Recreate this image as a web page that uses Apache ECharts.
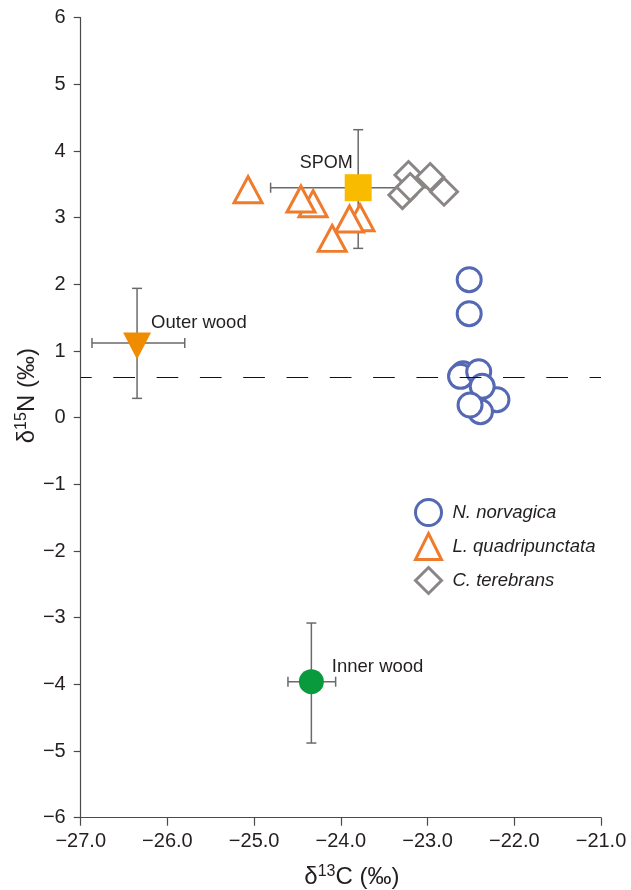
<!DOCTYPE html>
<html>
<head>
<meta charset="utf-8">
<script src="https://cdn.jsdelivr.net/npm/echarts@6/dist/echarts.min.js"></script>
<style>
html,body{margin:0;padding:0;background:#fff;}
#chart{width:631px;height:890px;}
</style>
</head>
<body>
<div id="chart"></div>
<script>
// ---- data (δ13C, δ15N) ----
const nNorvagica = [[-22.52,2.07],[-22.52,1.56],[-22.59,0.66],[-22.62,0.62],[-22.41,0.69],[-22.20,0.27],[-22.39,0.09],[-22.37,0.47],[-22.51,0.19]];
const lQuadripunctata = [[-25.07,3.42],[-24.32,3.21],[-24.46,3.28],[-23.78,3.00],[-23.90,2.98],[-24.10,2.69]];
const cTerebrans = [[-23.22,3.64],[-22.97,3.61],[-23.29,3.34],[-23.20,3.46],[-22.81,3.39]];
const spom = [-23.80, 3.45];
const spomErrX = [-24.81, -22.79];
const spomErrY = [2.54, 4.32];
const outerWood = [-26.35, 1.12];
const outerWoodErrX = [-26.87, -25.80];
const outerWoodErrY = [0.29, 1.94];
const innerWood = [-24.34, -3.96];
const innerWoodErrX = [-24.61, -24.06];
const innerWoodErrY = [-4.88, -3.08];
const dashedLineY = 0.61;
const xTicks = {min: -27, max: -21, interval: 1};
const yTicks = {min: -6, max: 6, interval: 1};

const errBars = [
  [spom[0], spom[1], spomErrX[0], spomErrX[1], spomErrY[0], spomErrY[1]],
  [outerWood[0], outerWood[1], outerWoodErrX[0], outerWoodErrX[1], outerWoodErrY[0], outerWoodErrY[1]],
  [innerWood[0], innerWood[1], innerWoodErrX[0], innerWoodErrX[1], innerWoodErrY[0], innerWoodErrY[1]]
];

const FONT = "'Liberation Sans', Arial, Helvetica, sans-serif";
const minus = s => String(s).replace('-', '\u2212');
const BLUE = '#5468b4', ORANGE = '#ef7b2c', GRAY = '#8b8686';

const chart = echarts.init(document.getElementById('chart'), null, {renderer: 'canvas'});
const nameRich = {sup: {fontSize: 16, lineHeight: 16, verticalAlign: 'top', fontFamily: FONT, color: '#231f20'}};
const option = {
  backgroundColor: '#fff',
  animation: false,
  textStyle: {fontFamily: FONT},
  grid: {left: 80.7, right: 30, top: 17.7, bottom: 72.3, containLabel: false, outerBoundsMode: 'none'},
  xAxis: {
    type: 'value', min: xTicks.min, max: xTicks.max, interval: xTicks.interval,
    axisLine: {onZero: false, lineStyle: {color: '#4a4a4a', width: 1.2}},
    axisTick: {show: true, length: 8, lineStyle: {color: '#4a4a4a', width: 1.2}},
    splitLine: {show: false},
    axisLabel: {fontSize: 20, color: '#231f20', margin: 14, fontFamily: FONT,
      formatter: v => minus(v.toFixed(1))},
    name: 'δ{sup|13}C (‰)', nameLocation: 'middle', nameGap: 46, nameMoveOverlap: false,
    nameTextStyle: {fontSize: 24, color: '#231f20', fontFamily: FONT, lineHeight: 28,
      padding: [0, 0, 0, 22], rich: nameRich}
  },
  yAxis: {
    type: 'value', min: yTicks.min, max: yTicks.max, interval: yTicks.interval,
    axisLine: {onZero: false, lineStyle: {color: '#4a4a4a', width: 1.2}},
    axisTick: {show: true, length: 7, lineStyle: {color: '#4a4a4a', width: 1.2}},
    splitLine: {show: false},
    axisLabel: {fontSize: 20, color: '#231f20', margin: 15, fontFamily: FONT,
      formatter: v => minus(v)},
    name: 'δ{sup|15}N (‰)', nameLocation: 'middle', nameGap: 39, nameRotate: 90, nameMoveOverlap: false,
    nameTextStyle: {fontSize: 24, color: '#231f20', fontFamily: FONT, lineHeight: 28,
      padding: [0, 0, 0, 44], rich: nameRich}
  },
  legend: {
    orient: 'vertical', left: 414, top: 498, padding: 0, itemWidth: 26, itemHeight: 26, itemGap: 5,
    data: ['N. norvagica', 'L. quadripunctata', 'C. terebrans'],
    itemStyle: {borderWidth: 3},
    textStyle: {fontSize: 18.5, fontStyle: 'italic', color: '#231f20', fontFamily: FONT, padding: [0,0,0,6]}
  },
  series: [
    {
      type: 'custom', name: 'errbars', z: 1,
      data: errBars,
      renderItem: function (params, api) {
        const x = api.value(0), y = api.value(1);
        const l = api.coord([api.value(2), y]);
        const r = api.coord([api.value(3), y]);
        const b = api.coord([x, api.value(4)]);
        const t = api.coord([x, api.value(5)]);
        const cap = 5;
        const st = {stroke: '#6d6969', lineWidth: 1.5};
        const line = (x1,y1,x2,y2) => ({type: 'line', shape: {x1,y1,x2,y2}, style: st});
        return {type: 'group', children: [
          line(l[0], l[1], r[0], r[1]),
          line(l[0], l[1]-cap, l[0], l[1]+cap),
          line(r[0], r[1]-cap, r[0], r[1]+cap),
          line(t[0], t[1], b[0], b[1]),
          line(t[0]-cap, t[1], t[0]+cap, t[1]),
          line(b[0]-cap, b[1], b[0]+cap, b[1])
        ]};
      },
      silent: true
    },
    {
      type: 'scatter', name: 'dashed', data: [], z: 1,
      markLine: {
        silent: true, symbol: 'none', label: {show: false},
        lineStyle: {color: '#111', width: 1.2, type: [21.7, 21.6], dashOffset: 10.7},
        data: [{yAxis: dashedLineY}]
      }
    },
    {
      type: 'scatter', name: 'C. terebrans', z: 3,
      symbol: 'diamond', symbolSize: 27,
      itemStyle: {color: '#fff', borderColor: GRAY, borderWidth: 3, opacity: 1},
      data: cTerebrans
    },
    {
      type: 'scatter', name: 'L. quadripunctata', z: 3,
      symbol: 'triangle', symbolSize: [28, 26],
      itemStyle: {color: '#fff', borderColor: ORANGE, borderWidth: 3, opacity: 1},
      data: lQuadripunctata
    },
    {
      type: 'scatter', name: 'N. norvagica', z: 3,
      symbol: 'circle', symbolSize: 24,
      itemStyle: {color: '#fff', borderColor: BLUE, borderWidth: 3, opacity: 1},
      data: nNorvagica
    },
    {
      type: 'scatter', name: 'SPOM', z: 4,
      symbol: 'rect', symbolSize: 27,
      itemStyle: {color: '#f8bb00', opacity: 1},
      label: {show: true, formatter: 'SPOM', position: 'left', distance: 5, offset: [13, -25],
        fontSize: 18, color: '#231f20', fontFamily: FONT},
      data: [spom]
    },
    {
      type: 'scatter', name: 'Outer wood', z: 4,
      symbol: 'triangle', symbolRotate: 180, symbolSize: [28, 27], symbolOffset: [0, 3],
      itemStyle: {color: '#f08c00', opacity: 1},
      label: {show: true, formatter: 'Outer wood', position: 'right', distance: 5, offset: [-5, -23],
        fontSize: 18.5, color: '#231f20', fontFamily: FONT},
      data: [outerWood]
    },
    {
      type: 'scatter', name: 'Inner wood', z: 4,
      symbol: 'circle', symbolSize: 25,
      itemStyle: {color: '#0a9a3e', opacity: 1},
      label: {show: true, formatter: 'Inner wood', position: 'right', distance: 5, offset: [3, -15],
        fontSize: 18.5, color: '#231f20', fontFamily: FONT},
      data: [innerWood]
    }
  ]
};
chart.setOption(option);
</script>
</body>
</html>
